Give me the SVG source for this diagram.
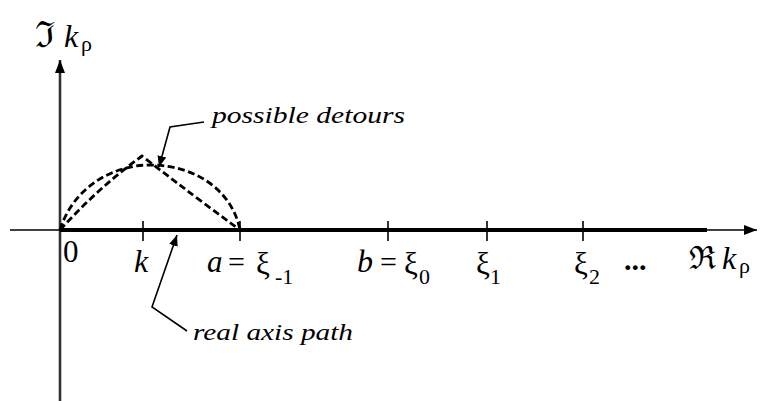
<svg xmlns="http://www.w3.org/2000/svg" width="761" height="401" viewBox="0 0 761 401">
<defs>
<marker id="axhead" markerWidth="14" markerHeight="12" refX="13" refY="6" orient="auto" markerUnits="userSpaceOnUse"><path d="M0,1 L13,6 L0,11 z" fill="#000"/></marker>
<marker id="lead" markerWidth="12" markerHeight="10" refX="11" refY="5" orient="auto" markerUnits="userSpaceOnUse"><path d="M0,0.5 L11,5 L0,9.5 z" fill="#000"/></marker>
</defs>
<style>
.tick{stroke:#000;stroke-width:1.6}
.dash{fill:none;stroke:#000;stroke-width:2.8;stroke-dasharray:7,3.5}
.leader{fill:none;stroke:#000;stroke-width:1.6}
</style>
<g id="axes">
<line x1="60" y1="401" x2="60" y2="60" stroke="#333" stroke-width="2.6" marker-end="url(#axhead)"/>
<line x1="10" y1="230" x2="757" y2="230" stroke="#000" stroke-width="1.6" marker-end="url(#axhead)"/>
<line id="real-path" x1="60" y1="230" x2="707" y2="230" stroke="#000" stroke-width="4"/>
</g>
<g id="ticks">
<line class="tick" x1="143" y1="221" x2="143" y2="241"/>
<line class="tick" x1="240" y1="221" x2="240" y2="241"/>
<line class="tick" x1="388" y1="221" x2="388" y2="241"/>
<line class="tick" x1="487" y1="221" x2="487" y2="241"/>
<line class="tick" x1="583" y1="221" x2="583" y2="241"/>
</g>
<g id="detours">
<path class="dash" d="M60,230 C72,190 110,165 150,165 C195,165 232,190 240,230"/>
<path class="dash" d="M60,230 Q98,188 142,156 Q195,197 240,230"/>
</g>
<g id="connectors">
<polyline class="leader" points="204,122 170,127 159,167" marker-end="url(#lead)"/>
<polyline class="leader" points="187,331 152,307 177,235" marker-end="url(#lead)"/>
</g>
<g id="labels" font-family="Liberation Serif, serif" font-size="30" fill="#000">
<text x="35" y="47" font-family="DejaVu Serif, serif" font-size="36">ℑ</text>
<text x="64" y="47" font-style="italic" font-size="32">k</text>
<text x="81" y="51" font-size="22">ρ</text>
<text x="63" y="262" font-size="31">0</text>
<text x="134" y="272" font-style="italic" font-size="32">k</text>
<text x="207" y="272" font-style="italic" font-size="31">a</text>
<text x="228" y="272">=</text>
<text x="256" y="274" font-size="31">ξ</text>
<text x="275" y="284" font-size="22">-1</text>
<text x="357" y="272" font-style="italic" font-size="32">b</text>
<text x="380" y="272">=</text>
<text x="404" y="274" font-size="31">ξ</text>
<text x="419" y="284" font-size="22">0</text>
<text x="476" y="274" font-size="31">ξ</text>
<text x="490" y="284" font-size="22">1</text>
<text x="574" y="274" font-size="31">ξ</text>
<text x="589" y="284" font-size="22">2</text>
<text x="624" y="270" font-weight="bold">...</text>
<text x="689" y="269" font-family="DejaVu Serif, serif" font-size="32">ℜ</text>
<text x="722" y="269" font-style="italic" font-size="32">k</text>
<text x="739" y="273" font-size="22">ρ</text>
<text x="212" y="123" font-style="italic" font-size="24" textLength="193" lengthAdjust="spacingAndGlyphs">possible detours</text>
<text x="193" y="340" font-style="italic" font-size="24" textLength="160" lengthAdjust="spacingAndGlyphs">real axis path</text>
</g>
</svg>
